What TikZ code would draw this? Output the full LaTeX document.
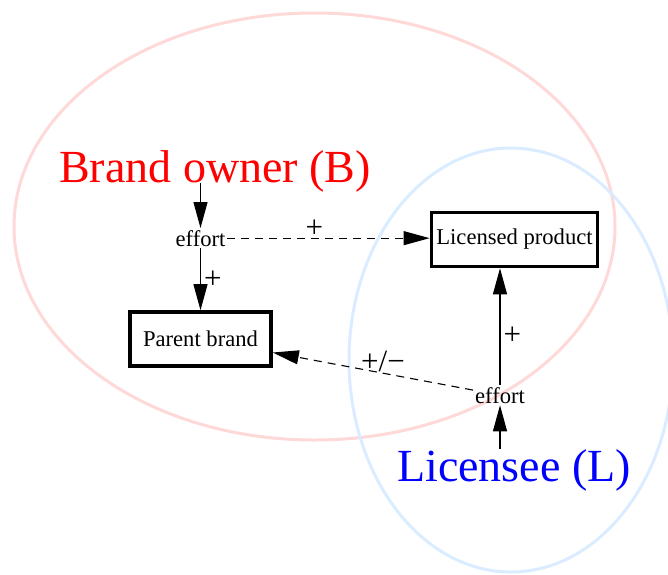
\documentclass[tikz,border=0pt]{standalone}
\usepackage{fontspec}
\setmainfont{Liberation Serif}
\usetikzlibrary{arrows.meta}
\definecolor{ownerpink}{RGB}{255,216,216}
\definecolor{licblue}{RGB}{218,236,255}
\definecolor{ownerred}{RGB}{255,0,0}
\definecolor{licenseeblue}{RGB}{0,0,255}
\newcommand{\smallfont}{\fontsize{22.6}{26}\selectfont}
\newcommand{\signfont}{\fontsize{31}{34}\selectfont}
\newcommand{\bigfont}{\fontsize{46}{50}\selectfont}

\begin{document}
\begin{tikzpicture}[x=1pt, y=-1pt, line width=1.1pt,
  party/.style={font=\bigfont, inner sep=0pt, text depth=0pt, anchor=base},
  effort/.style={font=\smallfont, inner sep=1.5pt, anchor=base},
  item/.style={draw, line width=3.6pt, font=\smallfont, minimum width=141pt, minimum height=54pt, inner xsep=5pt},
  sign/.style={font=\signfont, inner sep=3pt},
  arr/.style={-{Triangle[length=26pt, width=14pt]}},
  weak/.style={arr, dash pattern=on 8pt off 6pt}]
  \useasboundingbox (0,0) rectangle (668,574);
  \clip (0,0) rectangle (668,574);
  % the two parties
  \draw[ownerpink, line width=3pt] (314.5,226.5) ellipse [x radius=300.5pt, y radius=213.5pt];
  \draw[licblue, line width=3pt] (511,360) ellipse [x radius=162pt, y radius=212pt];
  % nodes
  \node[party, text=ownerred] (owner) at (215,182) {Brand owner (B)};
  \node[effort] (effB) at (200.5,246) {effort};
  \node[item] (parent) at (200.5,339) {Parent brand};
  \node[item] (licensed) at (514.5,239.5) {Licensed product};
  \node[effort] (effL) at (500,403) {effort};
  \node[party, text=licenseeblue] (licensee) at (514,481) {Licensee (L)};
  % effects
  \draw[arr] (effB |- owner.south) -- (effB);
  \draw[arr] (effB) -- node[sign, right] {+} (parent);
  \draw[weak] (effB) -- node[sign, above, pos=0.43, yshift=-3pt] {+} (licensed.west |- effB);
  \draw[arr] (licensee.north -| effL) -- (effL);
  \draw[arr] (effL) -- node[sign, right, pos=0.42] {+} (effL |- licensed.south);
  \draw[weak] (effL) -- node[sign, above, pos=0.45, yshift=-2pt] {+/−} (parent);
\end{tikzpicture}
\end{document}
